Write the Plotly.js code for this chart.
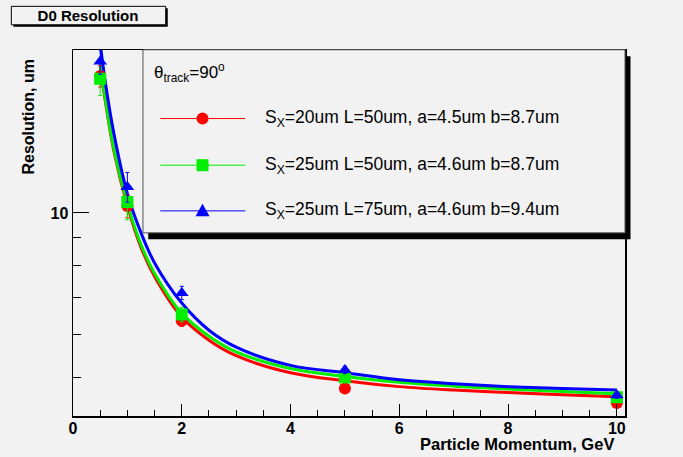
<!DOCTYPE html>
<html>
<head>
<meta charset="utf-8">
<script src="https://cdn.plot.ly/plotly-3.0.1.min.js"></script>
<style>html,body{margin:0;padding:0;background:#f2f2f2;}#chart{width:683px;height:457px;}</style>
</head>
<body>
<div id="chart"></div>
<script>
// ---- data ----
const momentum = [0.5, 1, 2, 5, 10];
const redRes   = [17.8, 10.3, 6.35, 4.77, 4.49];
const redErr   = [0.8, 0.5, 0.15, 0.08, 0.06];
const greenRes = [17.6, 10.47, 6.52, 5.0, 4.6];
const greenErr = [1.2, 0.75, 0.2, 0.08, 0.06];
const blueRes  = [18.94, 11.16, 7.14, 5.16, 4.64];
const blueErr  = [1.0, 0.7, 0.2, 0.08, 0.06];

const fitP     = [0.5, 0.6, 0.75, 1, 1.25, 1.5, 2, 2.5, 3, 4, 5, 6, 7, 8, 9, 10];
const redFit   = [18.6, 15.9, 13.0, 10.3, 8.65, 7.65, 6.45, 5.85, 5.48, 5.1, 4.93, 4.81, 4.74, 4.69, 4.65, 4.61];
const greenFit = [18.8, 16.0, 13.1, 10.4, 8.75, 7.75, 6.55, 5.95, 5.57, 5.19, 5.02, 4.9, 4.82, 4.76, 4.71, 4.67];
const blueFit  = [20.4, 17.2, 14.0, 10.85, 9.2, 8.1, 6.84, 6.1, 5.68, 5.26, 5.1, 4.95, 4.87, 4.81, 4.77, 4.74];

const xTickVals = [0, 2, 4, 6, 8, 10];
const yTickVals = [10];
const yMinorVals = [5, 6, 7, 8, 9];

const legendTitle = 'θ<sub>track</sub>=90<sup>o</sup>';
const legendLabels = [
  'S<sub>X</sub>=20um L=50um, a=4.5um b=8.7um',
  'S<sub>X</sub>=25um L=50um, a=4.6um b=8.7um',
  'S<sub>X</sub>=25um L=75um, a=4.6um b=9.4um'
];
const chartTitle = 'D0 Resolution';
const xTitle = 'Particle Momentum, GeV';
const yTitle = 'Resolution, um';

// ---- layout geometry (pixels) ----
const W = 683, H = 457;
const L = 72.7, R = 625, T = 49.7, B = 416;
const fx = p => (p - L) / (R - L);
const fy = p => (B - p) / (B - T);

const colors = ['#ff0000', '#00ee00', '#0000ff'];
const symbols = ['circle', 'square', 'triangle-up'];
const series = [[redRes, redErr, redFit], [greenRes, greenErr, greenFit], [blueRes, blueErr, blueFit]];

const traces = [];
series.forEach((s, i) => {
  traces.push({
    x: fitP, y: s[2], mode: 'lines', type: 'scatter', line: {color: colors[i], width: 3, shape: 'spline'},
    showlegend: false, hoverinfo: 'skip'
  });
});
series.forEach((s, i) => {
  traces.push({
    x: momentum, y: s[0], mode: 'markers', type: 'scatter',
    marker: {color: colors[i], symbol: symbols[i], size: 12},
    error_y: {type: 'data', array: s[1], color: colors[i], thickness: 1, width: 2},
    showlegend: false
  });
});

const font = 'Liberation Sans, Arial, Helvetica, sans-serif';
const shapes = [];
const annotations = [];

// title box with shadow
shapes.push({type: 'rect', xref: 'paper', yref: 'paper', x0: fx(13), x1: fx(167.5), y0: fy(8), y1: fy(26.5), fillcolor: '#000', line: {width: 0}, layer: 'above'});
shapes.push({type: 'rect', xref: 'paper', yref: 'paper', x0: fx(11), x1: fx(165.5), y0: fy(6), y1: fy(24.5), fillcolor: '#f2f2f2', line: {color: '#000', width: 1}, layer: 'above'});

// legend box with shadow
shapes.push({type: 'rect', xref: 'paper', yref: 'paper', x0: fx(148), x1: fx(630.5), y0: fy(56), y1: fy(239), fillcolor: '#000', line: {width: 0}, layer: 'above'});
shapes.push({type: 'rect', xref: 'paper', yref: 'paper', x0: fx(142.7), x1: fx(625), y0: fy(49.5), y1: fy(232.7), fillcolor: '#f2f2f2', line: {color: '#555', width: 1}, layer: 'above'});

const rowY = [118.3, 165, 210.7];
rowY.forEach((yy, i) => {
  shapes.push({type: 'line', xref: 'paper', yref: 'paper', x0: fx(160), x1: fx(245), y0: fy(yy), y1: fy(yy), line: {color: colors[i], width: 1}, layer: 'above'});
  const cx = 202.3, r = 6;
  if (i === 0) {
    shapes.push({type: 'circle', xref: 'paper', yref: 'paper', x0: fx(cx - r), x1: fx(cx + r), y0: fy(yy - r), y1: fy(yy + r), fillcolor: colors[i], line: {width: 0}, layer: 'above'});
  } else if (i === 1) {
    shapes.push({type: 'rect', xref: 'paper', yref: 'paper', x0: fx(cx - r), x1: fx(cx + r), y0: fy(yy - r), y1: fy(yy + r), fillcolor: colors[i], line: {width: 0}, layer: 'above'});
  } else {
    const px = (x, y) => `${fx(x)},${fy(y)}`;
    shapes.push({type: 'path', xref: 'paper', yref: 'paper', path: `M${px(cx, yy - 7)} L${px(cx + 7, yy + 5.5)} L${px(cx - 7, yy + 5.5)} Z`, fillcolor: colors[i], line: {width: 0}, layer: 'above'});
  }
  annotations.push({xref: 'paper', yref: 'paper', x: fx(263), y: fy(yy), xanchor: 'left', yanchor: 'middle', showarrow: false,
    text: legendLabels[i], font: {family: font, size: 17.5, color: '#000'}});
});
annotations.push({xref: 'paper', yref: 'paper', x: fx(152), y: fy(72), xanchor: 'left', yanchor: 'middle', showarrow: false,
  text: legendTitle, font: {family: font, size: 17, color: '#000'}});

// axis titles
annotations.push({xref: 'paper', yref: 'paper', x: fx(616), y: fy(444), xanchor: 'right', yanchor: 'middle', showarrow: false,
  text: '<b>' + xTitle + '</b>', font: {family: font, size: 16.5, color: '#000'}});
annotations.push({xref: 'paper', yref: 'paper', x: fx(28), y: fy(116), xanchor: 'center', yanchor: 'middle', showarrow: false, textangle: -90,
  text: '<b>' + yTitle + '</b>', font: {family: font, size: 16, color: '#000'}});

const layout = {
  width: W, height: H,
  paper_bgcolor: '#f2f2f2', plot_bgcolor: '#f2f2f2',
  margin: {l: L, r: W - R, t: T, b: H - B, pad: 0},
  title: {text: '<b>' + chartTitle + '</b>', x: 88 / W, xref: 'container', xanchor: 'center', y: 1 - 15.5 / H, yref: 'container', yanchor: 'middle',
    font: {family: font, size: 15, color: '#000'}},
  showlegend: false,
  xaxis: {
    range: [0, 10.15], showgrid: false, zeroline: false, showline: true, linecolor: '#000', linewidth: 1.5, mirror: true,
    ticks: 'inside', ticklen: 12, tickwidth: 1, tickcolor: '#000', tickmode: 'array', tickvals: xTickVals,
    ticktext: xTickVals.map(v => '<b>' + v + '</b>'), ticklabelstandoff: -3,
    tickfont: {family: font, size: 16, color: '#000'},
    minor: {ticks: 'inside', ticklen: 6, tickwidth: 1, tickcolor: '#000', dtick: 0.5, tick0: 0, showgrid: false}
  },
  yaxis: {
    type: 'log', range: [Math.log10(4.25), Math.log10(19.87)], showgrid: false, zeroline: false, showline: true, linecolor: '#000', linewidth: 1.5, mirror: true,
    ticks: 'inside', ticklen: 16, tickwidth: 1, tickcolor: '#000', tickmode: 'array', tickvals: yTickVals, ticktext: yTickVals.map(v => '<b>' + v + '</b>'),
    tickfont: {family: font, size: 16, color: '#000'},
    minor: {ticks: 'inside', ticklen: 8, tickwidth: 1, tickcolor: '#000', tickmode: 'array', tickvals: yMinorVals, showgrid: false}
  },
  shapes: shapes,
  annotations: annotations
};

Plotly.newPlot('chart', traces, layout, {displayModeBar: false, staticPlot: true});
</script>
</body>
</html>
